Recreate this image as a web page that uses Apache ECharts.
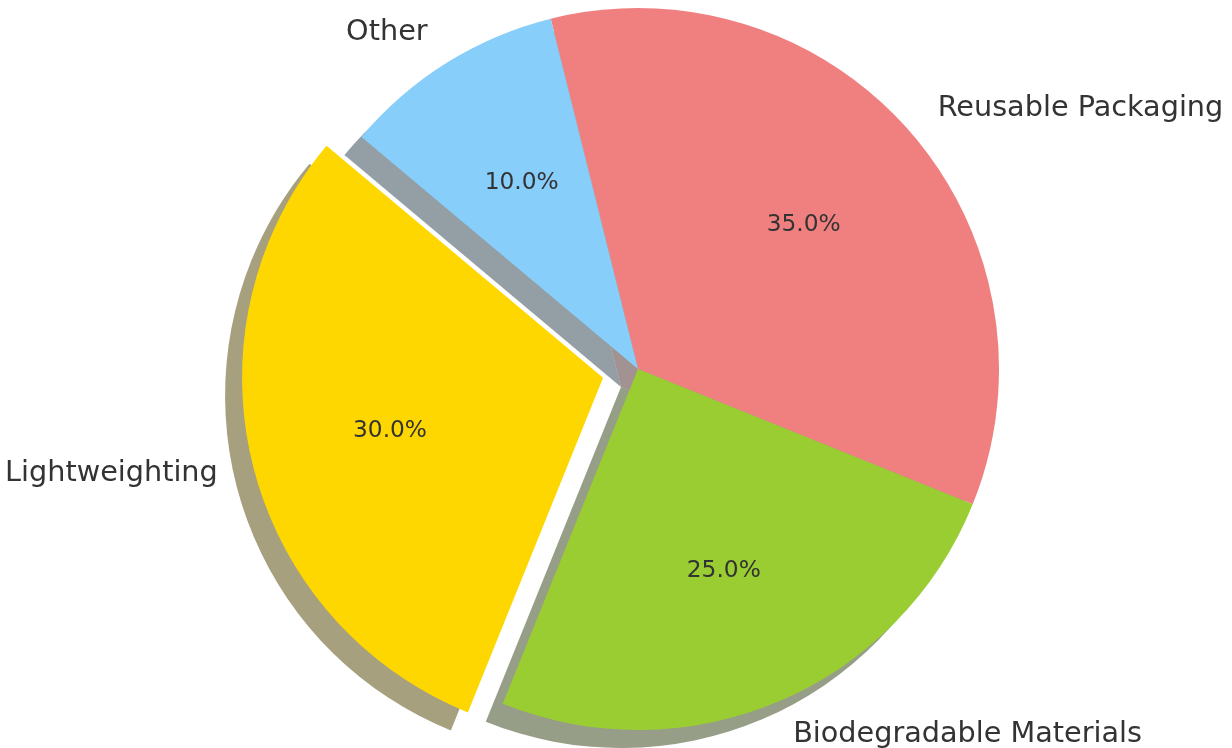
<!DOCTYPE html>
<html>
<head>
<meta charset="utf-8">
<script src="https://cdn.jsdelivr.net/npm/echarts@6/dist/echarts.min.js"></script>
<style>
  html, body { margin: 0; padding: 0; background: #fff; }
  #chart { width: 1232px; height: 748px; }
</style>
</head>
<body>
<div id="chart"></div>
<script>
// data (clockwise from the top)
const categories = ['Reusable Packaging', 'Biodegradable Materials', 'Lightweighting', 'Other']
const shares = [35, 25, 30, 10]
const colors = ['#F08080', '#9ACD32', '#FFD700', '#87CEFA']
const exploded = ['Lightweighting']

const R = 361
const CENTER = [638, 369]
const OFFSET = 36
const START = 104

// matplotlib-ish shadow: face colour * 0.3, half alpha
const shadowOf = hex => {
  const n = parseInt(hex.slice(1), 16)
  const r = Math.round(((n >> 16) & 255) * 0.3)
  const g = Math.round(((n >> 8) & 255) * 0.3)
  const b = Math.round((n & 255) * 0.3)
  return `rgba(${r},${g},${b},0.5)`
}

const chart = echarts.init(document.getElementById('chart'))

const mainData = categories.map((name, i) => ({
  name,
  value: shares[i],
  selected: exploded.includes(name),
  itemStyle: {
    color: colors[i],
    shadowColor: shadowOf(colors[i]),
    shadowBlur: 0,
    shadowOffsetX: -17,
    shadowOffsetY: 18
  }
}))

const pctData = categories.map((name, i) => ({
  name,
  value: shares[i],
  selected: exploded.includes(name)
}))

chart.setOption({
  backgroundColor: '#fff',
  animation: false,
  series: [
    {
      type: 'pie',
      center: CENTER,
      radius: R,
      startAngle: START,
      clockwise: true,
      silent: true,
      selectedMode: 'single',
      selectedOffset: OFFSET,
      avoidLabelOverlap: false,
      emphasis: { disabled: true },
      select: { itemStyle: { borderWidth: 0 } },
      label: {
        show: true,
        position: 'outside',
        distanceToLabelLine: 0,
        fontFamily: 'DejaVu Sans',
        fontSize: 28.7,
        color: '#333',
        padding: [4, 0, 0, 0]
      },
      labelLine: { show: false, length: R * 0.1, length2: 0 },
      data: mainData
    },
    {
      type: 'pie',
      center: CENTER,
      radius: R * 1.2,
      startAngle: START,
      clockwise: true,
      silent: true,
      selectedMode: 'single',
      selectedOffset: OFFSET,
      emphasis: { disabled: true },
      itemStyle: { color: 'rgba(0,0,0,0)' },
      select: { itemStyle: { color: 'rgba(0,0,0,0)', borderWidth: 0 } },
      label: {
        show: true,
        position: 'inside',
        fontFamily: 'DejaVu Sans',
        fontSize: 23.3,
        color: '#333',
        padding: [4, 0, 0, 0],
        formatter: p => p.percent.toFixed(1) + '%'
      },
      labelLine: { show: false },
      data: pctData
    }
  ]
})
</script>
</body>
</html>
